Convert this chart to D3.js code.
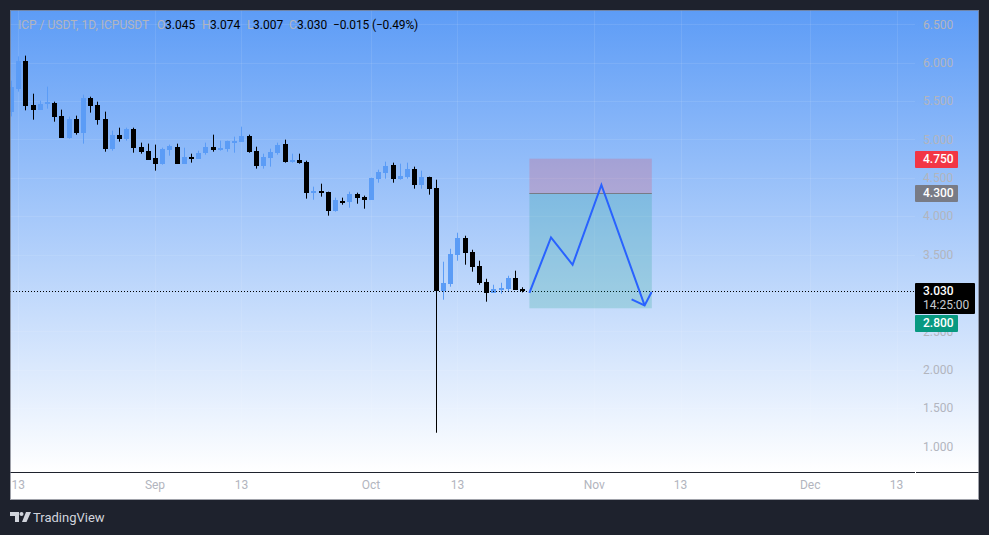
<!DOCTYPE html>
<html>
<head>
<meta charset="utf-8">
<script src="https://cdn.jsdelivr.net/npm/d3@7"></script>
<style>
  html, body { margin: 0; padding: 0; background: #1e222d; }
  svg { display: block; font-family: Roboto, "Liberation Sans", sans-serif; }
</style>
</head>
<body>
<div id="chart"></div>
<script>
// daily candles, first one is 12 Aug
const firstDay = "2025-08-12";
const opens = [5.354,5.663,6.028,5.454,5.389,5.454,5.480,5.311,5.024,5.271,5.089,5.545,5.454,5.271,4.880,5.063,5.011,5.141,4.906,4.854,4.763,4.685,4.867,4.906,4.685,4.776,4.750,4.828,4.906,4.867,4.880,4.972,4.972,5.050,4.854,4.659,4.763,4.828,4.946,4.711,4.737,4.711,4.320,4.333,4.320,4.072,4.202,4.189,4.294,4.255,4.215,4.489,4.567,4.672,4.489,4.515,4.620,4.411,4.515,4.372,3.029,3.120,3.498,3.720,3.537,3.355,3.146,3.003,3.042,3.055,3.198,3.045];
const highs = [5.767,6.084,6.093,5.597,5.506,5.689,5.493,5.389,5.298,5.311,5.584,5.558,5.493,5.363,5.115,5.154,5.154,5.154,4.959,4.946,4.933,4.893,4.933,4.946,4.893,4.815,4.854,4.959,5.063,4.985,4.985,5.037,5.167,5.063,4.906,4.815,4.880,4.959,4.998,4.815,4.815,4.724,4.385,4.424,4.320,4.242,4.242,4.320,4.307,4.268,4.502,4.607,4.711,4.698,4.685,4.698,4.646,4.594,4.515,4.476,3.407,3.576,3.785,3.746,3.563,3.420,3.185,3.107,3.133,3.224,3.290,3.074];
const lows = [5.301,5.624,5.380,5.258,5.389,5.402,5.232,5.024,5.011,5.063,4.946,5.350,5.193,4.841,4.854,4.972,4.985,4.828,4.815,4.737,4.594,4.672,4.789,4.685,4.685,4.698,4.750,4.802,4.841,4.854,4.841,4.828,4.972,4.828,4.620,4.620,4.646,4.802,4.698,4.698,4.685,4.229,4.215,4.255,4.007,4.059,4.150,4.111,4.163,4.098,4.215,4.437,4.489,4.437,4.476,4.489,4.359,4.359,4.281,1.178,2.912,3.081,3.420,3.368,3.277,3.107,2.886,3.003,2.990,3.016,3.042,3.007];
const closes = [5.680,6.028,5.445,5.389,5.467,5.484,5.298,5.024,5.271,5.089,5.545,5.441,5.258,4.880,5.063,5.011,5.141,4.893,4.841,4.737,4.685,4.880,4.920,4.685,4.776,4.750,4.828,4.906,4.867,4.893,4.985,4.985,5.050,4.841,4.659,4.776,4.841,4.933,4.711,4.737,4.698,4.307,4.333,4.307,4.072,4.215,4.189,4.294,4.242,4.215,4.502,4.580,4.659,4.489,4.528,4.620,4.411,4.515,4.359,3.029,3.133,3.511,3.720,3.524,3.342,3.133,3.003,3.055,3.068,3.198,3.042,3.030];

const priceTicks = [6.5,6,5.5,5,4.5,4,3.5,3,2.5,2,1.5,1];
const timeTicks = [
  ["2025-08-13","13"],["2025-09-01","Sep"],["2025-09-13","13"],["2025-10-01","Oct"],
  ["2025-10-13","13"],["2025-11-01","Nov"],["2025-11-13","13"],["2025-12-01","Dec"],["2025-12-13","13"]
];

const lastPrice = 3.030, stopPrice = 4.750, entryPrice = 4.300, targetPrice = 2.800;
const boxStart = "2025-10-23", boxEnd = "2025-11-09";

// hand drawn projection
const pathDays = ["2025-10-23","2025-10-26","2025-10-29","2025-11-02","2025-11-08"];
const pathPrices = [3.000,3.724,3.367,4.407,2.837];

const width = 989, height = 535;
const plot = { left: 10, right: 915, top: 10, bottom: 472, outerRight: 979, outerBottom: 500 };

const day = d3.utcParse("%Y-%m-%d");
const x = d3.scaleUtc().domain([day(firstDay), day("2025-12-01")]).range([11, 810.2]);
const y = d3.scaleLinear().domain([1, 6.5]).range([446.4, 24.4]);
const days = opens.map((_, i) => d3.utcDay.offset(day(firstDay), i));
const snap = v => Math.round(v) + 0.5;

const svg = d3.select("#chart").append("svg").attr("width", width).attr("height", height);

const defs = svg.append("defs");
const grad = defs.append("linearGradient").attr("id", "bg").attr("x1", 0).attr("y1", 0).attr("x2", 0).attr("y2", 1);
grad.append("stop").attr("offset", 0).attr("stop-color", "#5d9cf6");
grad.append("stop").attr("offset", 1).attr("stop-color", "#ffffff");
defs.append("clipPath").attr("id", "plotClip").append("rect")
  .attr("x", plot.left).attr("y", plot.top)
  .attr("width", plot.right - plot.left).attr("height", plot.bottom - plot.top);

// panel
svg.append("rect").attr("x", plot.left).attr("y", plot.top)
  .attr("width", plot.outerRight - plot.left).attr("height", plot.outerBottom - plot.top).attr("fill", "#fff");
svg.append("rect").attr("x", plot.left).attr("y", plot.top)
  .attr("width", plot.outerRight - plot.left).attr("height", plot.bottom - plot.top).attr("fill", "url(#bg)");

// grid
const grid = svg.append("g").attr("stroke", "#fff").attr("stroke-opacity", 0.09);
grid.selectAll(".h").data(priceTicks).join("line").attr("class", "h")
  .attr("x1", plot.left).attr("x2", plot.right)
  .attr("y1", d => snap(y(d))).attr("y2", d => snap(y(d)));
grid.selectAll(".v").data(timeTicks).join("line").attr("class", "v")
  .attr("x1", d => snap(x(day(d[0])))).attr("x2", d => snap(x(day(d[0]))))
  .attr("y1", plot.top).attr("y2", plot.bottom);

const chart = svg.append("g").attr("clip-path", "url(#plotClip)");

// candles
const upColor = "#5b9cf6", downColor = "#000000";
const candles = chart.selectAll(".candle").data(days).join("g").attr("class", "candle");
candles.append("line")
  .attr("x1", d => snap(x(d))).attr("x2", d => snap(x(d)))
  .attr("y1", (d, i) => y(highs[i])).attr("y2", (d, i) => y(lows[i]))
  .attr("stroke", (d, i) => closes[i] >= opens[i] ? upColor : downColor);
candles.append("rect")
  .attr("x", d => Math.round(x(d)) - 2).attr("width", 5)
  .attr("y", (d, i) => Math.round(y(Math.max(opens[i], closes[i]))))
  .attr("height", (d, i) => Math.max(2, Math.round(Math.abs(y(opens[i]) - y(closes[i])))))
  .attr("fill", (d, i) => closes[i] >= opens[i] ? upColor : downColor);

// last price line
chart.append("line").attr("x1", plot.left).attr("x2", plot.right)
  .attr("y1", snap(y(lastPrice))).attr("y2", snap(y(lastPrice)))
  .attr("stroke", "#000").attr("stroke-dasharray", "1 2");

// position box
const bx0 = x(day(boxStart)), bx1 = x(day(boxEnd));
chart.append("rect").attr("x", bx0).attr("width", bx1 - bx0)
  .attr("y", y(stopPrice)).attr("height", y(entryPrice) - y(stopPrice))
  .attr("fill", "#f23645").attr("fill-opacity", 0.2);
chart.append("rect").attr("x", bx0).attr("width", bx1 - bx0)
  .attr("y", y(entryPrice)).attr("height", y(targetPrice) - y(entryPrice))
  .attr("fill", "#089981").attr("fill-opacity", 0.2);
chart.append("line").attr("x1", bx0).attr("x2", bx1)
  .attr("y1", snap(y(entryPrice))).attr("y2", snap(y(entryPrice)))
  .attr("stroke", "#787b86");

// projection with arrow head
const pathLine = d3.line().x(d => x(day(d))).y((d, i) => y(pathPrices[i]));
chart.append("path").attr("d", pathLine(pathDays))
  .attr("fill", "none").attr("stroke", "#2962ff").attr("stroke-width", 2);
const tipX = x(day(pathDays[4])), tipY = y(pathPrices[4]);
chart.append("path").attr("d", `M${tipX - 13},${tipY - 6}L${tipX},${tipY}L${tipX + 7},${tipY - 13.4}`)
  .attr("fill", "none").attr("stroke", "#2962ff").attr("stroke-width", 2);

// bottom line of the pane, broken at the price scale
svg.append("line").attr("x1", plot.left).attr("x2", plot.right).attr("y1", 472.5).attr("y2", 472.5).attr("stroke", "#1e222d");
svg.append("line").attr("x1", plot.right + 1).attr("x2", plot.outerRight).attr("y1", 472.5).attr("y2", 472.5).attr("stroke", "#1e222d");

// thin frame round the panel
svg.append("rect").attr("x", plot.left + 0.5).attr("y", plot.top + 0.5)
  .attr("width", plot.outerRight - plot.left - 1).attr("height", plot.outerBottom - plot.top - 1)
  .attr("fill", "none").attr("stroke", "#787b86").attr("stroke-opacity", 0.7);

// axes labels, 3.000 sits under the last price tag
const axisColor = "#b2b5be";
svg.selectAll(".price").data(priceTicks.filter(d => d !== 3)).join("text").attr("class", "price")
  .attr("x", 923).attr("y", d => y(d)).attr("dy", "0.35em")
  .attr("font-size", 12).attr("fill", axisColor)
  .text(d => d3.format(".3f")(d));
svg.selectAll(".time").data(timeTicks).join("text").attr("class", "time")
  .attr("x", d => x(day(d[0]))).attr("y", 489).attr("text-anchor", "middle")
  .attr("font-size", 12).attr("fill", axisColor)
  .text(d => d[1]);

// price tags, the target one is pushed down below the last price tag
const tags = [
  { value: stopPrice, color: "#f23645", shift: 0 },
  { value: entryPrice, color: "#787b86", shift: 0 },
  { value: targetPrice, color: "#089981", shift: 15 }
];
const tag = svg.selectAll(".tag").data(tags).join("g").attr("class", "tag");
tag.append("rect").attr("x", 915).attr("width", 43).attr("height", 17).attr("rx", 1)
  .attr("y", d => Math.round(y(d.value)) - 8 + d.shift).attr("fill", d => d.color);
tag.append("text").attr("x", 923).attr("y", d => y(d.value) + d.shift).attr("dy", "0.35em")
  .attr("font-size", 12).attr("font-weight", 500).attr("fill", "#fff")
  .text(d => d3.format(".3f")(d.value));

const lastY = Math.round(y(lastPrice));
svg.append("rect").attr("x", 915).attr("y", lastY - 8).attr("width", 60).attr("height", 31).attr("rx", 1).attr("fill", "#000");
svg.append("text").attr("x", 923).attr("y", y(lastPrice)).attr("dy", "0.35em")
  .attr("font-size", 12).attr("font-weight", 500).attr("fill", "#fff").text("3.030");
svg.append("text").attr("x", 923).attr("y", y(lastPrice) + 14).attr("dy", "0.35em")
  .attr("font-size", 12).attr("fill", "#c8cad0").text("14:25:00");

// legend
const legendParts = [
  ["ICP / USDT, 1D, ICPUSDT", axisColor, 18, 0], ["O", axisColor, 157, 0], ["3.045", "#000", 165, 0],
  ["H", axisColor, 202, 0], ["3.074", "#000", 210, 0], ["L", axisColor, 247, 0], ["3.007", "#000", 253, 0],
  ["C", axisColor, 289, 0], ["3.030", "#000", 297, 0], ["\u22120.015 (\u22120.49%)", "#000", 333, -0.15]
];
svg.selectAll(".legend").data(legendParts).join("text").attr("class", "legend")
  .attr("x", d => d[2]).attr("y", 29).attr("font-size", 12).attr("letter-spacing", d => d[3])
  .attr("fill", d => d[1]).text(d => d[0]);

// logo
const logo = svg.append("g").attr("fill", "#d1d4dc").attr("transform", "translate(10,512)");
logo.append("path").attr("d", "M0,0H9V10H5V4H0Z");
logo.append("circle").attr("cx", 11.5).attr("cy", 2).attr("r", 2);
logo.append("path").attr("d", "M16,0H21L16.5,10H12Z");
svg.append("text").attr("x", 33).attr("y", 522).attr("font-size", 13).attr("fill", "#d1d4dc").text("TradingView");
</script>
</body>
</html>
